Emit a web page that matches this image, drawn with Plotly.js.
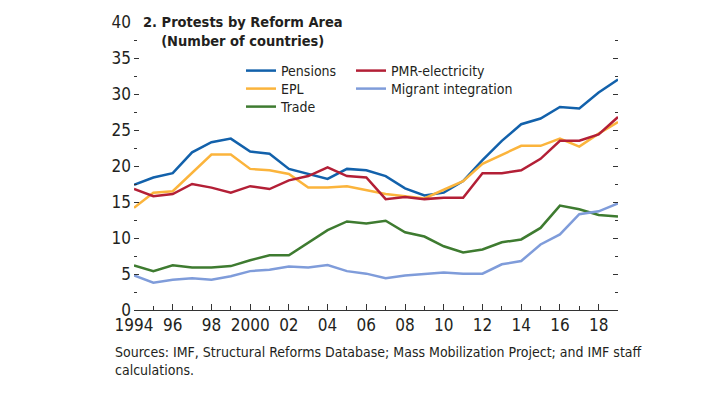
<!DOCTYPE html>
<html>
<head>
<meta charset="utf-8">
<script src="https://cdn.plot.ly/plotly-3.0.1.min.js"></script>
<style>html,body{margin:0;padding:0;background:#fff;}#chart{width:710px;height:399px;}</style>
</head>
<body>
<div id="chart"></div>
<script>
const years = [1994,1995,1996,1997,1998,1999,2000,2001,2002,2003,2004,2005,2006,2007,2008,2009,2010,2011,2012,2013,2014,2015,2016,2017,2018,2019];
const pensions = [17.4,18.4,19.0,21.9,23.3,23.8,22.0,21.7,19.6,18.9,18.2,19.6,19.4,18.6,16.9,15.9,16.3,17.9,20.8,23.5,25.8,26.6,28.2,28.0,30.2,32.0];
const epl = [14.2,16.3,16.5,19.0,21.6,21.6,19.6,19.4,18.9,17.0,17.0,17.2,16.6,16.1,15.8,15.5,16.7,17.9,20.3,21.5,22.8,22.8,23.8,22.7,24.5,26.1];
const pmr = [16.8,15.8,16.1,17.5,17.0,16.3,17.2,16.8,18.0,18.6,19.8,18.6,18.4,15.4,15.7,15.4,15.6,15.6,19.0,19.0,19.4,21.0,23.5,23.5,24.4,26.8];
const trade = [6.2,5.4,6.2,5.9,5.9,6.1,6.9,7.6,7.6,9.4,11.1,12.3,12.0,12.4,10.8,10.2,8.85,8.0,8.4,9.4,9.8,11.4,14.5,14.0,13.2,13.0];
const migrant = [4.8,3.8,4.2,4.4,4.2,4.7,5.4,5.6,6.05,5.9,6.25,5.4,5.05,4.4,4.8,5.05,5.2,5.05,5.05,6.35,6.8,9.1,10.5,13.3,13.7,14.8];
const xTickVals = [1994,1996,1998,2000,2002,2004,2006,2008,2010,2012,2014,2016,2018];
const xTickText = ["1994","96","98","2000","02","04","06","08","10","12","14","16","18"];
const yTickVals = [0,5,10,15,20,25,30,35,40];

const FONT = '"Liberation Sans Narrow", "DejaVu Sans Condensed", "Roboto", sans-serif';
const TXT = '#231f20';

function tr(name, y, color, legend) {
  return {x: years, y: y, name: name, type: 'scatter', mode: 'lines',
          line: {color: color, width: 2.5}, legend: legend, hoverinfo: 'skip'};
}
const data = [
  tr('Pensions', pensions, '#1261ab', 'legend'),
  tr('EPL', epl, '#fbb43c', 'legend2'),
  tr('Trade', trade, '#3e7b30', 'legend3'),
  tr('PMR-electricity', pmr, '#b31f36', 'legend4'),
  tr('Migrant integration', migrant, '#7f9cda', 'legend5')
];

// plot area: x 134..618, y 22..310
const PL = 134, PW = 484, PT = 22, PH = 288;
function lg(px, py) {
  return {
    xref: 'paper', yref: 'paper', xanchor: 'left', yanchor: 'top',
    x: (px - PL) / PW, y: (PT + PH - py) / PH,
    bgcolor: 'rgba(0,0,0,0)', borderwidth: 0,
    font: {family: FONT, size: 14, color: TXT}, itemclick: false, itemdoubleclick: false
  };
}

const layout = {
  width: 710, height: 399,
  margin: {l: 134, r: 92, t: 22, b: 89, autoexpand: false},
  paper_bgcolor: '#fff', plot_bgcolor: '#fff',
  font: {family: FONT, color: TXT, size: 16},
  showlegend: true,
  title: {
    text: '<b>2. Protests by Reform Area</b><br><b>\u00A0\u00A0\u00A0\u00A0(Number of countries)</b>',
    xref: 'container', yref: 'container', x: 143/710, xanchor: 'left',
    y: 1 - 27/399, yanchor: 'top',
    font: {family: FONT, size: 14.5, color: TXT}
  },
  legend: lg(241, 55),
  legend2: lg(241, 73),
  legend3: lg(241, 91),
  legend4: lg(351, 55),
  legend5: lg(351, 73),
  xaxis: {
    range: [1994, 2019], showgrid: false, zeroline: false,
    showline: true, linecolor: '#333', linewidth: 1,
    ticks: 'inside', ticklen: 6, tickcolor: '#333', tickwidth: 1,
    tickmode: 'array', tickvals: xTickVals, ticktext: xTickText,
    tickfont: {family: FONT, size: 17, color: TXT}, tickangle: 0, automargin: false,
    minor: {dtick: 1, tick0: 1994, ticks: 'inside', ticklen: 4, tickcolor: '#333', tickwidth: 1, showgrid: false},
    fixedrange: true
  },
  yaxis: {
    range: [0, 40], showgrid: false, zeroline: false, showline: false,
    tickmode: 'array', tickvals: yTickVals,
    ticks: 'inside', ticklen: 5, tickcolor: '#333', tickwidth: 1,
    mirror: 'ticks', automargin: false,
    tickfont: {family: FONT, size: 17, color: TXT},
    ticklabelstandoff: 2,
    minor: {dtick: 2.5, tick0: 0, ticks: 'inside', ticklen: 3, tickcolor: '#333', tickwidth: 1, showgrid: false},
    fixedrange: true
  },
  annotations: [{
    text: 'Sources: IMF, Structural Reforms Database; Mass Mobilization Project; and IMF staff<br>calculations.',
    xref: 'paper', yref: 'paper', x: (113 - PL)/PW, y: (PT + PH - 342)/PH,
    xanchor: 'left', yanchor: 'top', align: 'left', showarrow: false,
    font: {family: FONT, size: 14, color: TXT}
  }]
};

Plotly.newPlot('chart', data, layout, {staticPlot: true, displayModeBar: false});
</script>
</body>
</html>
